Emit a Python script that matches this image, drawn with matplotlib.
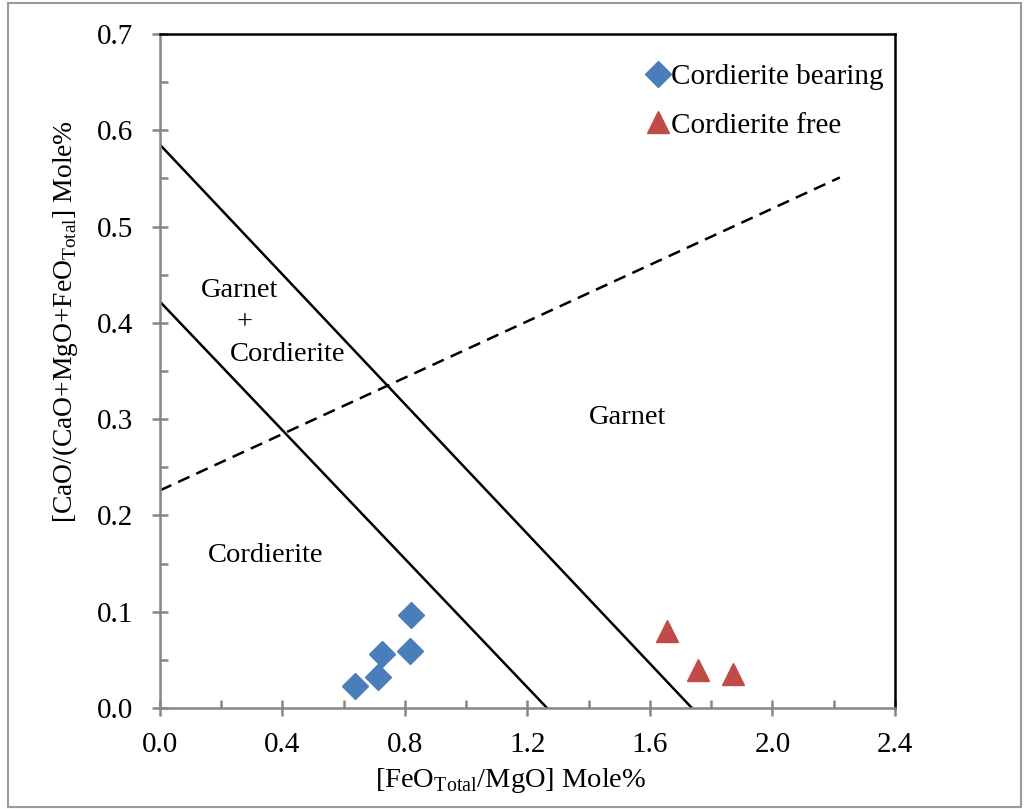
import numpy as np
import matplotlib
matplotlib.use("Agg")
import matplotlib.pyplot as plt
from matplotlib.patches import Rectangle

plt.rcParams['font.family'] = ['Liberation Serif', 'DejaVu Serif']
plt.rcParams['mathtext.fontset'] = 'custom'
plt.rcParams['mathtext.rm'] = 'Liberation Serif'

# samples
bearing_x = [0.637, 0.712, 0.725, 0.816, 0.820]
bearing_y = [0.023, 0.032, 0.056, 0.059, 0.097]
free_x = [1.656, 1.757, 1.871]
free_y = [0.080, 0.040, 0.035]

# field boundaries
outer_x = [0.0, 1.737]
outer_y = [0.585, 0.0]
inner_x = [0.0, 1.264]
inner_y = [0.422, 0.0]
dash_x = [0.0, 2.22]
dash_y = [0.226, 0.551]

xticks = [0.0, 0.4, 0.8, 1.2, 1.6, 2.0, 2.4]
yticks = [0.0, 0.1, 0.2, 0.3, 0.4, 0.5, 0.6, 0.7]

fig = plt.figure(figsize=(10.28, 8.09), dpi=100)
ax = fig.add_axes([0.1556, 0.1248, 0.715, 0.8332])

ax.plot(outer_x, outer_y, color='black', lw=1.8)
ax.plot(inner_x, inner_y, color='black', lw=1.8)
ax.plot(dash_x, dash_y, color='black', lw=1.8, ls=(0, (5, 3)))

ax.plot(bearing_x, bearing_y, 'D', color='#4A7EBB', ms=13, mec='#4A7EBB',
        label='Cordierite bearing', clip_on=False)
ax.plot(free_x, free_y, '^', color='#BE4B48', ms=16, mec='#BE4B48',
        label='Cordierite free', clip_on=False)

fs = 21
tfs = 20.5
ax.text(0.261, 0.434, 'Garnet', fontsize=tfs, ha='center', va='center')
ax.text(0.278, 0.400, '+', fontsize=tfs, ha='center', va='center')
ax.text(0.418, 0.367, 'Cordierite', fontsize=tfs, ha='center', va='center')
ax.text(1.528, 0.302, 'Garnet', fontsize=tfs, ha='center', va='center')
ax.text(0.346, 0.158, 'Cordierite', fontsize=tfs, ha='center', va='center')

ax.set_xlim(0, 2.4)
ax.set_ylim(0, 0.7)
ax.set_xticks(xticks)
ax.set_xticklabels(['%.1f' % v for v in xticks])
ax.set_yticks(yticks)
ax.set_yticklabels(['%.1f' % v for v in yticks])
ax.set_xticks(np.arange(0.2, 2.4, 0.4), minor=True)
ax.set_yticks(np.arange(0.05, 0.7, 0.1), minor=True)

gray = '#868686'
for s in ['left', 'bottom']:
    ax.spines[s].set_color(gray)
    ax.spines[s].set_linewidth(1.8)
for s in ['top', 'right']:
    ax.spines[s].set_color('black')
    ax.spines[s].set_linewidth(1.8)

ax.tick_params(which='major', direction='inout', length=12, width=1.8,
               color=gray, labelsize=fs)
ax.tick_params(which='minor', direction='in', length=6, width=1.8, color=gray)
ax.tick_params(axis='y', which='major', pad=13)
ax.tick_params(axis='x', which='major', pad=11)
ax.tick_params(top=False, right=False, which='both')

ax.set_xlabel(r'[FeO$_{\mathrm{Total}}$/MgO] Mole%', fontsize=tfs, va='center')
ax.set_ylabel(r'[CaO/(CaO+MgO+FeO$_{\mathrm{Total}}$] Mole%', fontsize=19.8, va='center')
ax.xaxis.set_label_coords(0.4776, -0.107)
ax.yaxis.set_label_coords(-0.129, 0.574)

ax.legend(loc='upper right', bbox_to_anchor=(1.012, 0.986), frameon=False,
          fontsize=21, handletextpad=0.0, labelspacing=0.75, borderaxespad=0.3,
          handlelength=0.85)

fig.patches.append(Rectangle((0.008, 0.003), 0.985, 0.993, transform=fig.transFigure,
                             fill=False, edgecolor='#9a9a9a', lw=1.5))

fig.savefig('out.png', dpi=100)
